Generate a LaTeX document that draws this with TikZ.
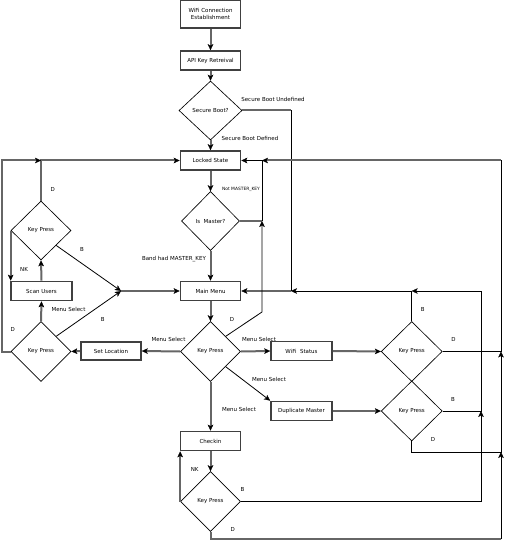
\documentclass[tikz,border=0pt]{standalone}
\usepackage{fontspec}
\setmainfont{DejaVu Sans}
\usetikzlibrary{shapes.geometric,arrows.meta}
\begin{document}
\begin{tikzpicture}[x=1pt,y=-1pt,
  txt/.style={font=\fontsize{5.5}{6.6}\selectfont},
  box/.style={txt,draw=black!75,line width=1.7pt,minimum width=60pt,minimum height=19pt,inner sep=0pt,align=center},
  dia/.style={txt,draw=black,line width=0.65pt,diamond,minimum width=60pt,minimum height=60pt,inner sep=0pt},
  gl/.style={draw=black!60,line width=2pt},
  bl/.style={draw=black,line width=0.8pt},
  arr/.style={-{Stealth[length=6pt,width=5.6pt,inset=1.5pt,line width=0.3pt,color=black]}},
  lbl/.style={txt,inner sep=0pt}
]
\useasboundingbox (0,0) rectangle (505,540);
% nodes
\node[box,minimum height=28pt] (wifi) at (210.5,14) {WiFi Connection\\Establishment};
\node[box] (api) at (210.5,60.5) {API Key Retreival};
\node[dia,minimum width=63pt,minimum height=59pt] (sb) at (210.5,110.5) {Secure Boot?};
\node[box] (lock) at (210.5,160.5) {Locked State};
\node[dia,minimum width=58pt,minimum height=59pt] (ism) at (210.5,221) {Is\ \ Master?};
\node[box] (main) at (210.5,291) {Main Menu};
\node[dia] (kpc) at (210.5,351.5) {Key Press};
\node[box,minimum height=18.5pt] (setl) at (111,351) {Set Location};
\node[dia] (kpl) at (41,351.5) {Key Press};
\node[box,minimum width=61pt] (scan) at (41.5,291) {Scan Users};
\node[dia,minimum height=59pt] (kpu) at (41,230.5) {Key Press};
\node[box,minimum width=61pt] (wst) at (301.5,351) {WiFi\ \ Status};
\node[dia,minimum width=61pt] (kpr1) at (411.7,351.5) {Key Press};
\node[box,minimum width=61pt] (dup) at (301.5,411) {Duplicate Master};
\node[dia,minimum width=61pt] (kpr2) at (411.7,411) {Key Press};
\node[box] (chk) at (210.5,441) {Checkin};
\node[dia] (kpb) at (210.5,501.5) {Key Press};
% coordinates
\coordinate (csb) at (291,110.5);
\coordinate (c1) at (291,291);
\coordinate (cNM) at (262,160.5);
\coordinate (cD1) at (262,312);
\coordinate (cD2) at (262,221);
\coordinate (cU) at (41,160.5);
\coordinate (cL1) at (1.5,351.5);
\coordinate (cL2) at (1.5,160.5);
\coordinate (cJ) at (121,291);
\coordinate (cR) at (411.7,291);
\coordinate (cB1) at (481,291);
\coordinate (cB2) at (481,411);
\coordinate (cB3) at (481,501.5);
\coordinate (cE1) at (501,351.5);
\coordinate (cE2) at (501,160.5);
\coordinate (cE3) at (501,452);
\coordinate (cE4) at (501,539);
\coordinate (cF1) at (411.7,452);
\coordinate (cF2) at (210.5,539);
% main column
\draw[gl,arr] (wifi.south) -- (api.north);
\draw[gl,arr] (api.south) -- (sb.north);
\draw[gl,arr] (sb.south) -- (lock.north);
\draw[gl,arr] (lock.south) -- (ism.north);
\draw[gl,arr] (ism.south) -- (main.north);
\draw[gl,arr] (main.south) -- (kpc.north);
\draw[gl,arr] (kpc.south) -- (chk.north);
\draw[gl,arr] (chk.south) -- (kpb.north);
% secure boot undefined
\draw[gl] (sb.east) -- (csb);
\draw[bl] (csb) -- (c1);
\draw[gl,arr] (c1) -- (main.east);
% not master key
\draw[gl] (ism.east) -- (cD2);
\draw[bl,arr] (cD2) -- (cNM) -- (lock.east);
% center key press
\draw[bl,arr] (kpc.north east) -- (cD1) -- (cD2);
\draw[gl,arr] (kpc.west) -- (setl.east);
\draw[gl,arr] (kpc.east) -- (wst.west);
\draw[bl,arr] (kpc.south east) -- (dup.north west);
% left side
\draw[gl,arr] (setl.west) -- (kpl.east);
\draw[gl,arr] (kpl.north) -- (scan.south);
\draw[gl,arr] (scan.north) -- (kpu.south);
\draw[gl,arr] (kpu.west) -- (kpu.west |- scan.north);
\draw[gl,arr] (kpu.north) -- (cU) -- (lock.west);
\draw[gl,arr] (kpl.west) -- (cL1) -- (cL2) -- (cU);
\draw[bl,arr] (kpu.south east) -- (cJ);
\draw[bl,arr] (kpl.north east) -- (cJ);
\draw[gl,arr] (cJ) -- (main.west);
% right side
\draw[gl,arr] (wst.east) -- (kpr1.west);
\draw[gl,arr] (dup.east) -- (kpr2.west);
\draw[bl,arr] (kpr1.north) -- (cR) -- (c1);
\draw[bl,arr] (kpr2.east) -- (cB2) -- (cB1) -- (cR);
\draw[bl,arr] (kpb.east) -- (cB3) -- (cB2);
\draw[bl] (kpr1.east) -- (cE1) -- (cE2);
\draw[gl,arr] (cE2) -- (cNM);
\draw[bl,arr] (kpr2.south) -- (cF1) -- (cE3) -- (cE1);
\draw[gl] (kpb.south) -- (cF2) -- (cE4);
\draw[bl,arr] (cE4) -- (cE3);
\draw[gl,arr] (kpb.west) -- (kpb.west |- chk.south);
% labels
\node[lbl] (lsbu) at (273,99) {Secure Boot Undefined};
\node[lbl] (lsbd) at (250,138) {Secure Boot Defined};
\node[lbl,font=\fontsize{4.4}{5}\selectfont] (lnm) at (241,189) {Not MASTER\_KEY};
\node[lbl] (lbm) at (174,259) {Band had MASTER\_KEY};
\node[lbl] (ld1) at (232,319) {D};
\node[lbl] (lms1) at (168.5,339) {Menu Select};
\node[lbl] (lms2) at (259,339) {Menu Select};
\node[lbl] (lms3) at (269,379) {Menu Select};
\node[lbl] (lms4) at (239,409) {Menu Select};
\node[lbl] (lms5) at (68.5,309) {Menu Select};
\node[lbl] (lnk1) at (24,269) {NK};
\node[lbl] (ld2) at (52.7,189) {D};
\node[lbl] (lb1) at (82,249) {B};
\node[lbl] (ld3) at (12.7,329) {D};
\node[lbl] (lb2) at (102.7,319) {B};
\node[lbl] (lb3) at (422.7,309) {B};
\node[lbl] (ld4) at (453.5,339) {D};
\node[lbl] (lb4) at (453,399) {B};
\node[lbl] (ld5) at (433,439) {D};
\node[lbl] (lnk2) at (194.7,469) {NK};
\node[lbl] (lb5) at (242.5,489) {B};
\node[lbl] (ld6) at (232.7,529) {D};
\end{tikzpicture}
\end{document}
